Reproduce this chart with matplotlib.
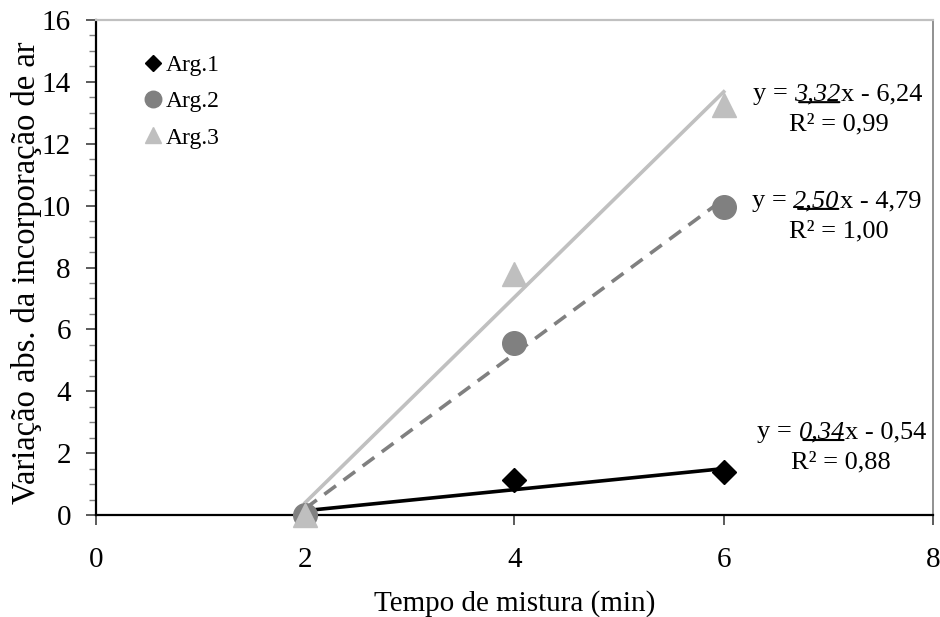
import numpy as np
import matplotlib
matplotlib.use('Agg')
import matplotlib.pyplot as plt


# mixing time (min) and absolute change in air incorporation
mixing_time = [2, 4, 6]
arg1_values = [0.0, 1.13, 1.39]
arg2_values = [0.0, 5.56, 9.95]
arg3_values = [0.0, 7.78, 13.25]

# linear trendlines: (slope, intercept, R²)
arg1_fit = (0.34, -0.54, 0.88)
arg2_fit = (2.50, -4.79, 1.00)
arg3_fit = (3.32, -6.24, 0.99)

series_names = ['Arg.1', 'Arg.2', 'Arg.3']

x_ticks = [0, 2, 4, 6, 8]
y_ticks = [0, 2, 4, 6, 8, 10, 12, 14, 16]

FONT = 'Liberation Serif'
TICK_FS = 21
EQ_FS = 19


def comma(value):
    return f'{value:.2f}'.replace('.', ',')


def draw_equation(ax, x, y, fit, r2_x):
    """Write 'y = ax - b' with the slope italic and underlined, R² below."""
    slope, intercept, r2 = fit
    sign = '-' if intercept < 0 else '+'

    prefix = ax.text(x, y, 'y = ', fontsize=EQ_FS, family=FONT,
                     ha='left', va='center')
    slope_txt = ax.annotate(comma(slope), xy=(1, 0), xycoords=prefix,
                            fontsize=EQ_FS, family=FONT, style='italic',
                            ha='left', va='bottom')
    ax.annotate(f'x {sign} {comma(abs(intercept))}', xy=(1, 0),
                xycoords=slope_txt, fontsize=EQ_FS, family=FONT,
                ha='left', va='bottom')
    # underline under the slope
    ax.annotate('', xy=(0.97, 0.14), xycoords=slope_txt,
                xytext=(0.1, 0.14), textcoords=slope_txt,
                arrowprops=dict(arrowstyle='-', lw=1.5, color='black',
                                shrinkA=0, shrinkB=0))

    ax.text(r2_x, y - 0.97, f'R² = {comma(r2)}', fontsize=EQ_FS, family=FONT,
            ha='center', va='center')


def plot_air_incorporation():
    fig = plt.figure(figsize=(9.4, 6.17), dpi=100)
    ax = fig.add_axes([0.102, 0.1653, 0.8906, 0.8023])

    x = np.array(mixing_time)
    x_line = np.array([mixing_time[0], mixing_time[-1]])

    styles = [
        dict(values=arg1_values, fit=arg1_fit, marker='D', ms=12,
             color='black', line_color='black', ls='-'),
        dict(values=arg2_values, fit=arg2_fit, marker='o', ms=17,
             color='#808080', line_color='#808080', ls=(0, (4, 2.6))),
        dict(values=arg3_values, fit=arg3_fit, marker='^', ms=17,
             color='#bfbfbf', line_color='#c0c0c0', ls='-'),
    ]

    # trendlines first so the markers sit on top
    for style in styles[::-1]:
        slope, intercept, _ = style['fit']
        ax.plot(x_line, slope * x_line + intercept, color=style['line_color'],
                linestyle=style['ls'], linewidth=2.6, zorder=2)

    for name, style in zip(series_names, styles):
        ax.plot(x, style['values'], linestyle='none', marker=style['marker'],
                markersize=style['ms'], color=style['color'],
                markeredgecolor=style['color'], label=name, zorder=3,
                clip_on=False)

    draw_equation(ax, 6.28, 13.6, arg3_fit, 7.1)
    draw_equation(ax, 6.27, 10.15, arg2_fit, 7.1)
    draw_equation(ax, 6.32, 2.68, arg1_fit, 7.12)

    ax.set_xlim(0, 8)
    ax.set_ylim(0, 16)
    ax.set_xticks(x_ticks)
    ax.set_yticks(y_ticks)
    ax.set_yticks(np.arange(0, 16.01, 0.5), minor=True)

    for label in ax.get_xticklabels() + ax.get_yticklabels():
        label.set_fontfamily(FONT)
        label.set_fontsize(TICK_FS)

    ax.tick_params(axis='both', which='major', direction='out', length=7,
                   width=1.2, color='#404040')
    ax.tick_params(axis='y', which='major', pad=11)
    ax.tick_params(axis='x', which='major', pad=16)
    ax.tick_params(axis='y', which='minor', direction='out', length=5,
                   width=1.0, color='#808080')

    ax.spines['left'].set_color('black')
    ax.spines['left'].set_linewidth(1.6)
    ax.spines['bottom'].set_color('black')
    ax.spines['bottom'].set_linewidth(1.6)
    ax.spines['top'].set_color('#c0c0c0')
    ax.spines['top'].set_linewidth(1.6)
    ax.spines['right'].set_color('#909090')
    ax.spines['right'].set_linewidth(1.4)

    ax.set_xlabel('Tempo de mistura (min)', fontsize=TICK_FS, family=FONT)
    ax.set_ylabel('Variação abs. da incorporação de ar', fontsize=23.5,
                  family=FONT)
    ax.xaxis.set_label_coords(0.5, -0.152)
    ax.yaxis.set_label_coords(-0.064, 0.49)

    ax.legend(loc='upper left', bbox_to_anchor=(0.057, 0.93), frameon=False,
              prop={'family': FONT, 'size': 17}, markerscale=0.7,
              handlelength=0.8, handletextpad=0.15, labelspacing=0.62,
              borderaxespad=0, borderpad=0)

    fig.savefig('out.png', dpi=100)


if __name__ == '__main__':
    plot_air_incorporation()
